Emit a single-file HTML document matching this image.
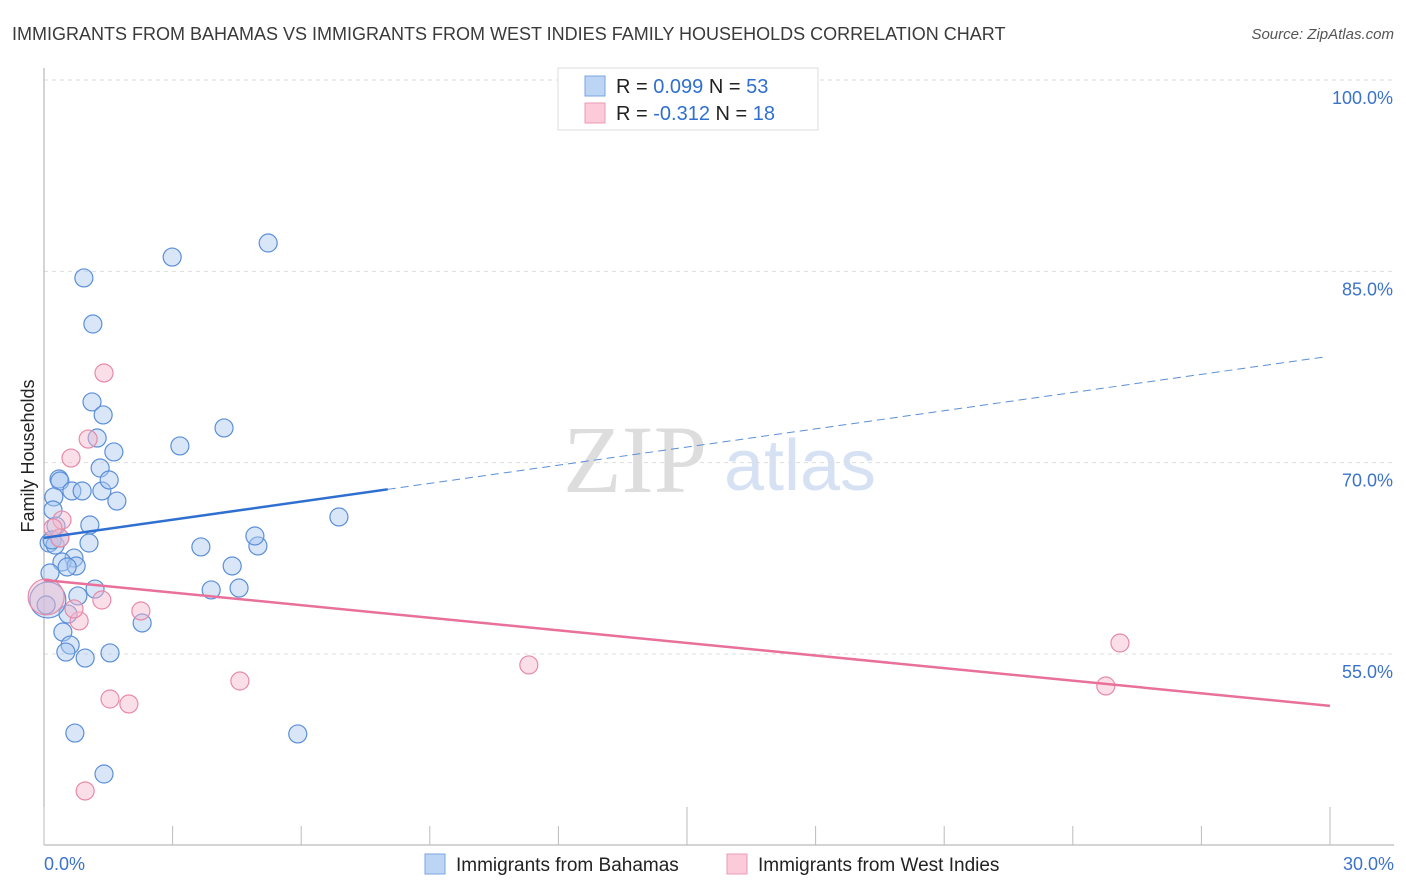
<!DOCTYPE html>
<html><head><meta charset="utf-8"><style>
body{margin:0;background:#fff;font-family:"Liberation Sans",sans-serif}
svg{display:block}
</style></head><body>
<svg width="1406" height="892">
<text x="12" y="40" font-size="18" fill="#3a3a3a">IMMIGRANTS FROM BAHAMAS VS IMMIGRANTS FROM WEST INDIES FAMILY HOUSEHOLDS CORRELATION CHART</text>
<text x="1394" y="39" font-size="15" fill="#555" font-style="italic" text-anchor="end">Source: ZipAtlas.com</text>
<text x="635" y="492" font-size="96" fill="#ddd" font-family="Liberation Serif,serif" text-anchor="middle">ZIP</text>
<text x="800" y="490" font-size="72" fill="#d6e2f3" text-anchor="middle">atlas</text>
<g id="grid"></g>
<g id="axes"></g>
<g id="marks"></g>
<text transform="translate(34,456) rotate(-90)" font-size="18" fill="#222" text-anchor="middle">Family Households</text>
<g>
<rect x="558" y="68" width="260" height="62" fill="#fff" stroke="#ddd"/>
<rect x="585" y="76" width="20" height="20" fill="#bcd5f5" stroke="#7aa5e0"/>
<rect x="585" y="103" width="20" height="20" fill="#fbcbd9" stroke="#ec9ab4"/>
<text x="616" y="93" font-size="20" fill="#222">R = <tspan fill="#2f6fd0">0.099</tspan>   N = <tspan fill="#2f6fd0">53</tspan></text>
<text x="616" y="120" font-size="20" fill="#222">R = <tspan fill="#2f6fd0">-0.312</tspan>   N = <tspan fill="#2f6fd0"> 18</tspan></text>
</g>
<g>
<rect x="425" y="854" width="20" height="20" fill="#bcd5f5" stroke="#7aa5e0"/>
<text x="456" y="871" font-size="19" fill="#222">Immigrants from Bahamas</text>
<rect x="727" y="854" width="20" height="20" fill="#fbcbd9" stroke="#ec9ab4"/>
<text x="758" y="871" font-size="19" fill="#222">Immigrants from West Indies</text>
</g>
</svg>
<script>
const yTicks=[100,85,70,55];
const yTickLabels=["100.0%","85.0%","70.0%","55.0%"];
const xTickLabels=["0.0%","30.0%"];
const blueX=[2.99,5.23,0.93,1.14,1.12,1.38,1.24,1.63,3.17,4.20,1.31,0.35,0.37,0.65,0.89,1.35,1.52,1.70,0.23,0.21,0.28,1.07,1.05,0.12,0.26,6.88,3.66,4.99,4.92,0.70,0.42,0.75,0.54,4.39,3.90,4.55,1.19,0.79,2.29,0.56,0.44,0.61,0.51,0.96,1.54,0.72,5.92,1.40,0.14,0.09,0.05,0.19,0.37];
const blueY=[86.12,87.22,84.48,80.87,74.76,73.74,71.93,70.84,71.31,72.72,69.58,68.72,68.56,67.78,67.78,67.78,68.64,66.99,67.31,66.29,65.03,65.11,63.70,63.70,63.54,65.74,63.39,63.47,64.25,62.52,62.21,61.90,61.82,61.90,60.02,60.17,60.09,59.55,57.43,58.13,56.72,55.70,55.15,54.68,55.08,48.80,48.73,45.59,61.35,59.23,58.84,63.94,64.09];
const blueBig=[0,0,0,0,0,0,0,0,0,0,0,0,0,0,0,0,0,0,0,0,0,0,0,0,0,0,0,0,0,0,0,0,0,0,0,0,0,0,0,0,0,0,0,0,0,0,0,0,0,1,0,0,0];
const pinkX=[1.40,1.03,0.63,0.42,0.37,0.21,1.35,2.26,0.82,0.70,4.57,1.54,1.98,0.96,11.31,25.10,24.77,0.05];
const pinkY=[77.03,71.85,70.36,65.50,64.09,64.88,59.23,58.37,57.59,58.53,52.88,51.47,51.08,44.26,54.14,55.86,52.49,59.47];
const pinkBig=[0,0,0,0,0,0,0,0,0,0,0,0,0,0,0,0,0,1];
const blueTrend=[64.1,0.475]; // intercept, slope
const blueSolidEnd=8.02;
const pinkTrend=[60.8,-0.329];

const X0=44,X1=1330,XMAX=30;
const xs=v=>X0+v/XMAX*(X1-X0);
const ys=v=>80+(100-v)*12.755;
const NS="http://www.w3.org/2000/svg";
function mk(tag,attrs,parent){const e=document.createElementNS(NS,tag);for(const k in attrs)e.setAttribute(k,attrs[k]);parent.appendChild(e);return e;}
const grid=document.getElementById('grid'),axes=document.getElementById('axes'),marks=document.getElementById('marks');
yTicks.forEach((t,i)=>{
 const l=mk('line',{x1:44,x2:1394,y1:ys(t),y2:ys(t),stroke:'#ddd','stroke-dasharray':'4,4'},grid);
 
 
 const tx=mk('text',{x:1393,y:ys(t)+24,'font-size':18,fill:'#3b73c9','text-anchor':'end'},axes);
 tx.textContent=yTickLabels[i];
 
 
});
const ya=mk('line',{x1:44,x2:44,y1:68,y2:845,stroke:'#aaa'},axes);


const xa=mk('line',{x1:44,x2:1394,y1:845,y2:845,stroke:'#aaa'},axes);


for(let i=0;i<=10;i++){
 const v=i*3,major=(i%5===0);
 const t=mk('line',{x1:xs(v),x2:xs(v),y1:major?807:826,y2:845,stroke:'#bbb'},axes);
 
 
}
[[0,'start',44],[30,'end',1394]].forEach((a,i)=>{
 const tx=mk('text',{x:a[2],y:870,'font-size':18,fill:'#3b73c9','text-anchor':a[1]},axes);
 tx.textContent=xTickLabels[i];
 
 
});
function dots(X,Y,B,fill,stroke,name){
 X.forEach((x,i)=>{
  const c=mk('circle',{cx:xs(x),cy:ys(Y[i]),r:B[i]?18:9,fill:fill,'fill-opacity':0.45,stroke:stroke,'stroke-width':1.2},marks);
  
  
 });
}
dots(blueX,blueY,blueBig,'#a9c8f0','#5b8fd8','point-bahamas');
dots(pinkX,pinkY,pinkBig,'#f7b8cb','#e88aa8','point-westindies');
const bt=x=>blueTrend[0]+blueTrend[1]*x, pt=x=>pinkTrend[0]+pinkTrend[1]*x;
const b1=mk('line',{x1:xs(0),y1:ys(bt(0)),x2:xs(blueSolidEnd),y2:ys(bt(blueSolidEnd)),stroke:'#2f6fd0','stroke-width':2.5},marks);


const b2=mk('line',{x1:xs(blueSolidEnd),y1:ys(bt(blueSolidEnd)),x2:xs(29.93),y2:ys(bt(29.93)),stroke:'#5b8fd8','stroke-width':1,'stroke-dasharray':'8,5'},marks);


const p1=mk('line',{x1:xs(0),y1:ys(pt(0)),x2:xs(30),y2:ys(pt(30)),stroke:'#e8709a','stroke-width':2.5},marks);


</script>
</body></html>
